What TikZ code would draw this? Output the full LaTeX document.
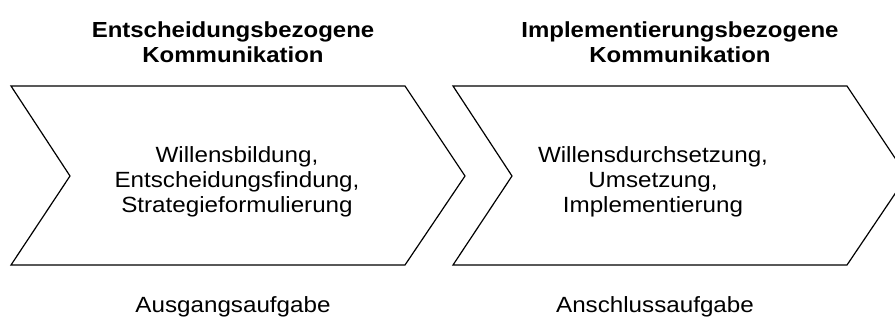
\documentclass[tikz,border=0pt]{standalone}
\usepackage{fontspec}
\setmainfont{Liberation Sans}[FakeStretch=1.1]
\begin{document}
\begin{tikzpicture}[x=1pt,y=-1pt,
  chevron/.style={draw=black,line width=1.2pt,line join=miter,fill=white},
  headtext/.style={align=center,font=\fontsize{21.8}{25}\selectfont\bfseries,inner sep=0pt},
  bodytext/.style={align=center,font=\fontsize{22}{25}\selectfont,inner sep=0pt},
  foottext/.style={font=\fontsize{22}{25}\selectfont,inner sep=0pt}]
\useasboundingbox (0,0) rectangle (895,327);
\clip (0,0) rectangle (895,327);
% decision phase chevron
\draw[chevron] (11,86) -- (405,86) -- (465,176) -- (405,265) -- (11,265) -- (70,176) -- cycle;
% implementation phase chevron (tip runs past the right edge)
\draw[chevron] (453,86) -- (847,86) -- (907,176) -- (847,265) -- (453,265) -- (512,176) -- cycle;
\node[headtext] (h1) at (233,42) {Entscheidungsbezogene\\Kommunikation};
\node[headtext] (h2) at (680,42) {Implementierungsbezogene\\Kommunikation};
\node[bodytext] (b1) at (237,182) {Willensbildung,\\Entscheidungsfindung,\\Strategieformulierung};
\node[bodytext] (b2) at (653,182) {Willensdurchsetzung,\\Umsetzung,\\Implementierung};
\node[foottext] (f1) at (233,307) {Ausgangsaufgabe};
\node[foottext] (f2) at (655,307) {Anschlussaufgabe};
\end{tikzpicture}
\end{document}
